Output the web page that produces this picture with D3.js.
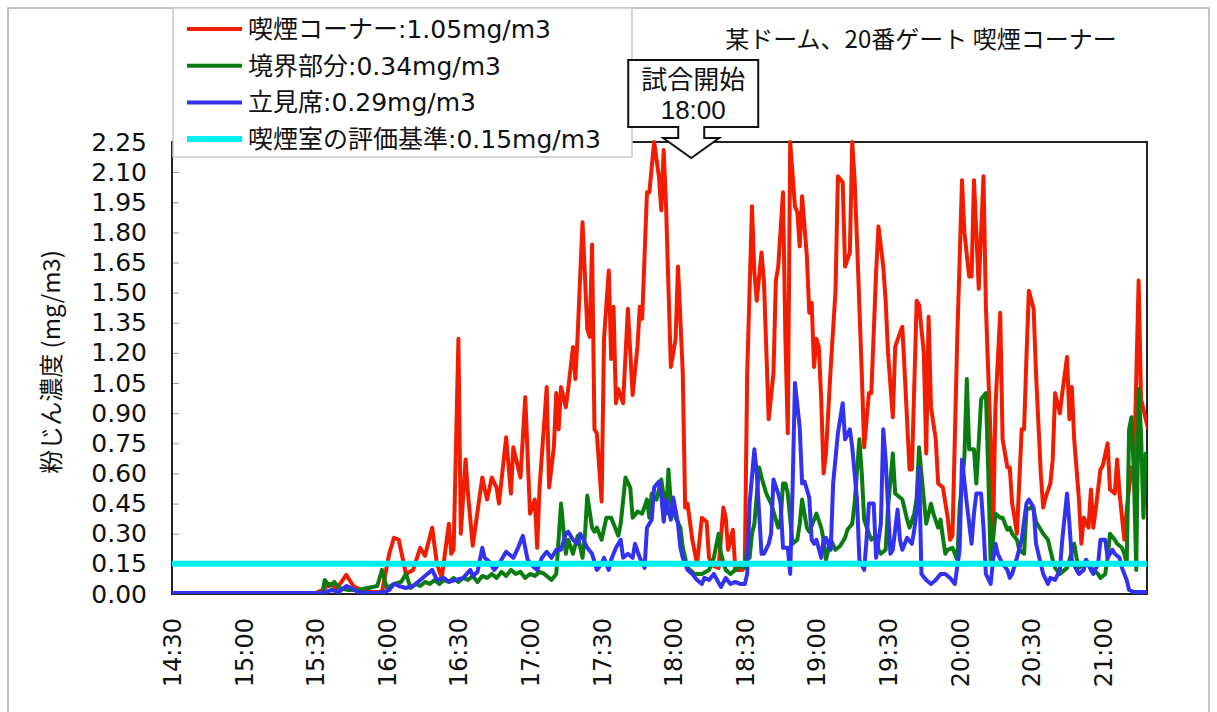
<!DOCTYPE html>
<html>
<head>
<meta charset="utf-8">
<script src="https://cdn.jsdelivr.net/npm/d3@7"></script>
<style>
  body { margin: 0; background: #fff; }
</style>
</head>
<body>
<div id="chart"></div>
<script>
// Measurement start and span (minutes after 14:30)
const startClock = '14:30';
const spanMinutes = 408.5;
const xTickMinutes = [0, 30, 60, 90, 120, 150, 180, 210, 240, 270, 300, 330, 360, 390];
const yTickValues = [0, 0.15, 0.30, 0.45, 0.60, 0.75, 0.90, 1.05, 1.20, 1.35, 1.50, 1.65, 1.80, 1.95, 2.10, 2.25];

const chartTitle = '某ドーム、20番ゲート 喫煙コーナー';
const yTitle = '粉じん濃度 (mg/m3)';
const calloutLines = ['試合開始', '18:00'];
const calloutMinute = 210;

const seriesNames = ['喫煙コーナー:1.05mg/m3', '境界部分:0.34mg/m3', '立見席:0.29mg/m3', '喫煙室の評価基準:0.15mg/m3'];
const seriesColors = ['#f21d00', '#0b7d10', '#3232f0', '#00eef0'];
const standardValue = 0.15;

// [minutes after 14:30, mg/m3]
const cornerData = [[0,0.005],[60,0.005],[63,0.02],[66,0.05],[69,0.03],[71,0.06],[73,0.095],[76,0.04],[79,0.02],[84,0.01],[88,0.01],[91,0.2],[93,0.28],[95,0.27],[98,0.10],[101,0.12],[104,0.23],[106,0.19],[109,0.33],[111,0.15],[113,0.08],[116,0.35],[117,0.2],[118,0.22],[120,1.27],[121,0.3],[123,0.67],[124,0.5],[126,0.24],[128,0.41],[130,0.58],[132,0.47],[134,0.58],[136,0.53],[137,0.45],[140,0.78],[142,0.50],[143,0.73],[146,0.58],[148,0.98],[150,0.40],[152,0.47],[153,0.23],[154,0.53],[157,1.03],[158,0.53],[160,0.73],[161,1.0],[162,0.82],[163,1.03],[165,0.93],[166,1.02],[168,1.23],[169,1.07],[170,1.30],[172,1.85],[174,1.32],[175,1.28],[176,1.74],[177,0.82],[178,0.80],[180,0.46],[181,1.27],[183,1.61],[184,1.17],[185,1.43],[186,0.95],[187,1.02],[189,0.95],[191,1.42],[193,0.99],[195,1.23],[196,1.43],[197,1.37],[199,2.0],[200,2.0],[202,2.25],[204,2.08],[205,1.91],[206,2.21],[207,1.93],[209,1.13],[211,1.27],[212,1.63],[214,1.10],[215,0.43],[216,0.45],[218,0.27],[220,0.15],[222,0.38],[224,0.36],[225,0.18],[227,0.14],[229,0.13],[231,0.43],[232,0.38],[233,0.22],[235,0.32],[236,0.12],[239,0.12],[240,0.15],[241,1.1],[243,1.93],[244,1.6],[245,1.46],[247,1.70],[248,1.56],[250,0.87],[252,1.1],[253,1.56],[254,1.63],[256,2.0],[257,1.27],[258,0.80],[259,2.25],[261,1.93],[262,1.90],[263,1.73],[264,1.98],[266,1.68],[267,1.40],[268,1.45],[269,1.13],[270,1.27],[271,1.23],[272,0.97],[273,0.6],[274,0.70],[276,1.13],[278,1.51],[279,2.08],[281,2.05],[282,1.63],[284,1.70],[285,2.25],[286,2.06],[287,1.76],[289,1.10],[290,0.73],[292,1.0],[293,1.0],[295,1.6],[296,1.83],[298,1.63],[299,1.46],[300,1.20],[302,0.88],[303,1.23],[305,1.30],[306,1.33],[307,1.1],[309,0.62],[310,0.62],[312,1.46],[313,1.44],[315,1.20],[316,0.70],[317,1.38],[318,0.93],[320,0.77],[321,0.55],[323,0.53],[325,0.38],[326,0.27],[327,0.29],[329,1.27],[331,2.06],[332,1.8],[334,1.58],[335,1.58],[336,2.06],[337,1.8],[338,1.52],[339,1.8],[340,2.08],[341,1.43],[343,0.77],[344,0.27],[345,0.93],[347,1.40],[348,0.77],[350,0.63],[351,0.63],[352,0.45],[353,0.38],[354,0.30],[356,0.82],[357,0.82],[358,1.18],[359,1.51],[361,1.42],[362,1.10],[364,0.60],[365,0.43],[366,0.48],[368,0.55],[369,0.67],[370,1.0],[371,0.95],[372,0.90],[373,1.0],[375,1.18],[376,0.87],[377,1.03],[378,0.77],[380,0.47],[381,0.25],[382,0.38],[384,0.33],[385,0.52],[386,0.33],[387,0.42],[389,0.62],[390,0.64],[392,0.75],[393,0.52],[395,0.50],[396,0.67],[397,0.50],[399,0.27],[400,0.42],[402,0.63],[403,0.58],[405,1.56],[406,0.97],[407,0.92],[409,0.82]];

const borderData = [[0,0.005],[63,0.005],[64,0.07],[66,0.04],[68,0.06],[70,0.03],[74,0.02],[78,0.02],[82,0.03],[86,0.04],[88,0.12],[90,0.03],[93,0.05],[96,0.06],[98,0.10],[100,0.03],[102,0.05],[104,0.04],[106,0.06],[108,0.05],[110,0.07],[112,0.05],[114,0.07],[116,0.06],[118,0.08],[120,0.06],[122,0.08],[124,0.07],[126,0.09],[128,0.06],[130,0.09],[132,0.08],[134,0.10],[136,0.08],[138,0.11],[140,0.09],[142,0.12],[144,0.10],[146,0.11],[148,0.08],[150,0.10],[152,0.09],[154,0.11],[156,0.10],[159,0.07],[161,0.10],[163,0.45],[165,0.20],[166,0.27],[168,0.20],[170,0.29],[172,0.18],[173,0.29],[174,0.49],[176,0.33],[177,0.31],[178,0.33],[180,0.27],[182,0.38],[184,0.38],[185,0.35],[187,0.29],[188,0.35],[190,0.58],[192,0.53],[193,0.38],[195,0.41],[197,0.40],[199,0.47],[200,0.38],[201,0.50],[203,0.47],[205,0.57],[207,0.40],[208,0.62],[209,0.45],[211,0.38],[213,0.33],[214,0.23],[216,0.13],[219,0.10],[222,0.10],[225,0.12],[227,0.18],[229,0.30],[230,0.20],[232,0.12],[234,0.10],[236,0.12],[238,0.14],[240,0.13],[241,0.23],[242,0.18],[243,0.30],[244,0.35],[246,0.63],[247,0.58],[249,0.50],[251,0.45],[254,0.33],[255,0.37],[256,0.55],[257,0.55],[258,0.50],[260,0.25],[262,0.27],[263,0.35],[264,0.47],[266,0.33],[267,0.31],[270,0.40],[272,0.33],[273,0.27],[274,0.17],[276,0.27],[278,0.22],[280,0.24],[282,0.28],[283,0.32],[285,0.35],[286,0.45],[288,0.77],[289,0.6],[290,0.37],[292,0.30],[293,0.27],[295,0.29],[296,0.22],[297,0.20],[299,0.22],[300,0.43],[302,0.70],[303,0.50],[305,0.48],[306,0.47],[308,0.37],[309,0.33],[311,0.40],[312,0.48],[313,0.73],[315,0.47],[316,0.35],[318,0.45],[319,0.40],[321,0.33],[322,0.37],[323,0.28],[324,0.20],[325,0.22],[327,0.23],[329,0.17],[330,0.43],[332,0.68],[333,1.07],[334,0.72],[336,0.72],[337,0.55],[338,0.75],[339,0.97],[341,1.0],[342,0.60],[343,0.15],[344,0.27],[345,0.40],[347,0.38],[348,0.38],[350,0.32],[351,0.33],[352,0.30],[354,0.27],[355,0.22],[357,0.20],[358,0.42],[360,0.43],[361,0.42],[362,0.36],[364,0.32],[365,0.30],[367,0.27],[368,0.22],[369,0.17],[370,0.13],[372,0.10],[374,0.12],[375,0.13],[376,0.17],[378,0.25],[379,0.18],[380,0.13],[382,0.15],[383,0.17],[385,0.13],[386,0.12],[388,0.10],[389,0.08],[391,0.10],[392,0.18],[393,0.30],[395,0.27],[396,0.25],[398,0.23],[399,0.20],[400,0.15],[401,0.82],[402,0.88],[403,0.60],[404,0.12],[405,1.02],[406,0.80],[407,0.38],[408,0.70],[409,0.60]];

const standData = [[0,0.005],[63,0.005],[64,0.01],[67,0.02],[70,0.01],[73,0.04],[75,0.03],[78,0.01],[82,0.005],[86,0.005],[89,0.01],[91,0.02],[93,0.05],[95,0.04],[98,0.03],[101,0.04],[104,0.07],[107,0.10],[109,0.12],[111,0.07],[114,0.08],[116,0.06],[119,0.07],[122,0.08],[125,0.12],[126,0.09],[128,0.11],[130,0.23],[131,0.18],[133,0.16],[135,0.12],[137,0.15],[140,0.21],[142,0.19],[143,0.18],[145,0.23],[147,0.29],[149,0.17],[151,0.14],[153,0.12],[155,0.18],[157,0.21],[159,0.18],[161,0.22],[163,0.22],[165,0.30],[166,0.31],[168,0.27],[170,0.25],[171,0.30],[172,0.28],[174,0.23],[176,0.20],[178,0.12],[180,0.15],[181,0.18],[183,0.12],[184,0.17],[186,0.23],[188,0.27],[189,0.18],[191,0.20],[193,0.18],[194,0.25],[196,0.18],[198,0.13],[199,0.33],[201,0.37],[202,0.53],[204,0.56],[205,0.49],[206,0.36],[207,0.47],[209,0.37],[210,0.48],[212,0.35],[213,0.23],[214,0.18],[216,0.12],[218,0.10],[220,0.07],[222,0.05],[223,0.08],[225,0.07],[227,0.10],[230,0.035],[232,0.08],[234,0.05],[236,0.06],[238,0.05],[240,0.05],[241,0.10],[242,0.45],[244,0.72],[245,0.60],[247,0.20],[248,0.20],[250,0.25],[251,0.30],[252,0.57],[254,0.50],[255,0.45],[256,0.23],[258,0.23],[259,0.10],[260,0.52],[261,1.05],[263,0.83],[264,0.55],[265,0.56],[267,0.48],[268,0.27],[269,0.25],[270,0.27],[272,0.18],[273,0.27],[274,0.28],[276,0.22],[277,0.55],[279,0.80],[281,0.95],[282,0.77],[284,0.82],[285,0.73],[287,0.47],[288,0.17],[290,0.12],[291,0.27],[292,0.45],[294,0.45],[295,0.18],[297,0.35],[298,0.82],[299,0.67],[301,0.20],[302,0.22],[304,0.42],[305,0.27],[306,0.22],[308,0.28],[310,0.25],[311,0.32],[312,0.42],[313,0.63],[314,0.10],[316,0.07],[318,0.05],[320,0.07],[322,0.10],[324,0.10],[326,0.08],[328,0.05],[330,0.22],[331,0.67],[333,0.45],[335,0.25],[336,0.40],[337,0.50],[339,0.50],[340,0.33],[341,0.10],[343,0.05],[344,0.17],[345,0.25],[346,0.20],[348,0.15],[350,0.12],[351,0.08],[352,0.10],[354,0.18],[356,0.27],[358,0.45],[359,0.47],[361,0.43],[362,0.25],[364,0.15],[365,0.10],[367,0.05],[368,0.08],[370,0.07],[372,0.12],[373,0.27],[375,0.50],[376,0.35],[377,0.17],[379,0.12],[380,0.10],[382,0.12],[383,0.17],[385,0.12],[386,0.10],[388,0.15],[389,0.27],[391,0.27],[392,0.18],[394,0.22],[395,0.20],[397,0.18],[398,0.13],[400,0.07],[401,0.02],[403,0.01],[405,0.01],[409,0.01]];

const seriesData = [cornerData, borderData, standData];

const width = 1217, height = 712;
const margin = { left: 172, right: 70, top: 142, bottom: 118 };
const plotW = width - margin.left - margin.right;
const plotH = height - margin.top - margin.bottom;

const parseClock = d3.timeParse('%H:%M');
const t0 = parseClock(startClock);
const toTime = m => new Date(t0.getTime() + m * 60000);

const svg = d3.select('#chart').append('svg')
    .attr('width', width)
    .attr('height', height)
    .style('font-family', '"DejaVu Sans", "Noto Sans CJK JP", sans-serif');

// outer frame
svg.append('rect')
    .attr('x', 8).attr('y', 8)
    .attr('width', 1201).attr('height', 740)
    .attr('fill', 'none').attr('stroke', '#b0b0b0').attr('stroke-width', 1.5);

const xScale = d3.scaleTime()
    .domain([t0, toTime(spanMinutes)])
    .range([margin.left, margin.left + plotW]);
const yScale = d3.scaleLinear()
    .domain([0, 2.25])
    .range([margin.top + plotH, margin.top]);

// Y axis with inner ticks
const yAxis = svg.append('g')
    .attr('transform', 'translate(' + margin.left + ',0)')
    .call(d3.axisLeft(yScale).tickValues(yTickValues).tickFormat(d3.format('.2f'))
      .tickSizeInner(-7).tickSizeOuter(0).tickPadding(25));
yAxis.select('.domain').remove();
yAxis.selectAll('line').attr('stroke', '#999');
yAxis.selectAll('text').attr('font-size', 25).attr('fill', '#111')
    .attr('font-family', '"DejaVu Sans", sans-serif');

// X axis, rotated labels, no tick marks
const xAxis = svg.append('g')
    .attr('transform', 'translate(0,' + (margin.top + plotH) + ')')
    .call(d3.axisBottom(xScale).tickValues(xTickMinutes.map(toTime))
      .tickFormat(d3.timeFormat('%H:%M')).tickSize(0).tickPadding(0));
xAxis.select('.domain').remove();
xAxis.selectAll('text')
    .attr('font-size', 24).attr('fill', '#111')
    .attr('font-family', '"DejaVu Sans", sans-serif')
    .attr('text-anchor', 'end')
    .attr('dy', '0.35em')
    .attr('transform', 'translate(0,24) rotate(-90)');

// plot frame
svg.append('rect')
    .attr('x', margin.left).attr('y', margin.top)
    .attr('width', plotW).attr('height', plotH)
    .attr('fill', 'none').attr('stroke', '#222').attr('stroke-width', 2);

svg.append('clipPath').attr('id', 'plotclip')
  .append('rect')
    .attr('x', margin.left).attr('y', margin.top - 3)
    .attr('width', plotW).attr('height', plotH + 3);

const line = d3.line()
    .x(d => xScale(toTime(d[0])))
    .y(d => yScale(d[1]));

const plot = svg.append('g').attr('clip-path', 'url(#plotclip)');
seriesData.forEach((s, i) => {
  plot.append('path')
      .datum(s)
      .attr('d', line)
      .attr('fill', 'none')
      .attr('stroke', seriesColors[i])
      .attr('stroke-width', 4)
      .attr('stroke-linejoin', 'round');
});
plot.append('line')
    .attr('x1', margin.left).attr('x2', margin.left + plotW)
    .attr('y1', yScale(standardValue)).attr('y2', yScale(standardValue))
    .attr('stroke', seriesColors[3]).attr('stroke-width', 6);

// y title
svg.append('text')
    .attr('transform', 'translate(60,362) rotate(-90)')
    .attr('text-anchor', 'middle')
    .attr('font-size', 24)
    .attr('fill', '#111')
    .attr('font-family', '"Noto Sans CJK JP", sans-serif')
    .text(yTitle);

// chart title
svg.append('text')
    .attr('x', 921).attr('y', 48)
    .attr('text-anchor', 'middle')
    .attr('font-size', 24)
    .attr('fill', '#111')
    .attr('font-family', '"Noto Sans CJK JP", sans-serif')
    .text(chartTitle);

// legend
const legend = svg.append('g');
legend.append('rect')
    .attr('x', 173).attr('y', 8).attr('width', 459).attr('height', 149)
    .attr('fill', '#fff').attr('stroke', '#c8c8c8').attr('stroke-width', 1.5);
seriesNames.forEach((name, i) => {
  const ly = 29 + i * 36.7;
  legend.append('line')
      .attr('x1', 187).attr('x2', 242).attr('y1', ly).attr('y2', ly)
      .attr('stroke', seriesColors[i]).attr('stroke-width', i === 3 ? 6 : 4);
  legend.append('text')
      .attr('x', 248).attr('y', ly).attr('dy', '0.36em')
      .attr('font-size', 25).attr('fill', '#111')
      .text(name);
});

// callout arrow for game start
const cx = xScale(toTime(calloutMinute)) + 18;
const callout = svg.append('g');
callout.append('path')
    .attr('d', 'M' + (cx - 63) + ',60 H' + (cx + 67) + ' V127 H' + (cx + 13) + ' V138 H' + (cx + 28) +
      ' L' + cx + ',158 L' + (cx - 28) + ',138 H' + (cx - 13) + ' V127 H' + (cx - 63) + ' Z')
    .attr('fill', '#fff').attr('stroke', '#111').attr('stroke-width', 2);
calloutLines.forEach((t, i) => {
  callout.append('text')
      .attr('x', cx + 2).attr('y', 80 + i * 30).attr('dy', '0.36em')
      .attr('text-anchor', 'middle')
      .attr('font-size', 26).attr('fill', '#111')
      .attr('font-family', '"Liberation Sans", "Noto Sans CJK JP", sans-serif')
      .text(t);
});
</script>
</body>
</html>
